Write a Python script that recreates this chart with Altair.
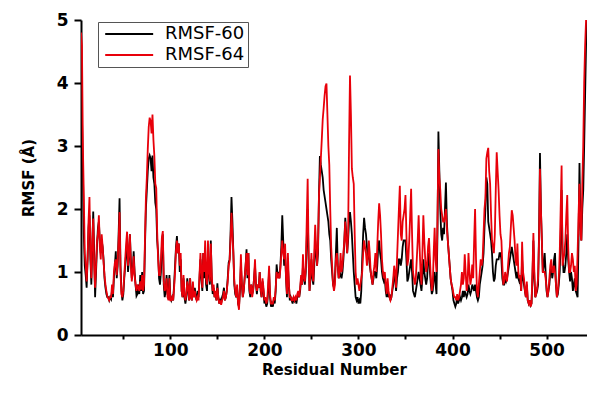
import altair as alt
import pandas as pd

# Residue numbers 5..543
residues = list(range(5, 544))

# RMSF-60 (black)
rmsf_60 = [
    4.8, 3.5, 2.65, 1.6, 1.1, 0.95, 0.75, 1.2, 1.7, 1.9,      # 5-14
    1.2, 0.8, 1.4, 1.96, 1.3, 0.6, 1.0, 1.4, 1.7, 1.8,        # 15-24
    1.5, 1.3, 1.5, 1.4, 1.2, 0.9, 0.75, 0.65, 0.6, 0.6,       # 25-34
    0.55, 0.6, 0.57, 0.7, 0.6, 0.9, 1.1, 1.33, 0.9, 1.1,      # 35-44
    1.6, 2.17, 1.1, 0.7, 0.55, 0.65, 0.9, 1.1, 1.3, 1.5,      # 45-54
    1.0, 1.2, 1.6, 1.2, 0.9, 1.0, 1.33, 1.0, 0.8, 0.62,       # 55-64
    0.65, 0.8, 0.65, 0.95, 0.7, 1.0, 0.65, 0.7, 1.4, 2.0,     # 65-74
    2.3, 2.6, 2.8, 2.85, 2.8, 2.6, 2.85, 2.5, 2.4, 2.1,       # 75-84
    2.0, 1.5, 1.3, 0.9, 0.8, 1.0, 1.4, 1.6, 0.8, 0.6,         # 85-94
    0.7, 0.95, 0.65, 0.6, 0.95, 0.6, 0.55, 0.6, 0.55, 0.8,    # 95-104
    1.1, 1.4, 1.57, 1.3, 1.45, 1.0, 1.2, 0.7, 0.6, 0.9,       # 105-114
    0.6, 0.5, 0.6, 0.9, 0.7, 0.55, 0.9, 0.6, 0.55, 0.8,       # 115-124
    0.6, 0.75, 0.6, 0.55, 0.7, 0.6, 0.9, 1.2, 0.9, 0.7,       # 125-134
    1.3, 0.9, 1.2, 0.8, 0.7, 1.3, 1.0, 0.8, 1.5, 0.9,         # 135-144
    0.65, 0.75, 0.6, 0.65, 0.55, 0.82, 0.6, 0.5, 0.55, 0.5,   # 145-154
    0.6, 0.65, 0.75, 0.55, 0.6, 0.7, 0.9, 1.15, 1.2, 1.6,     # 155-164
    2.19, 1.8, 1.3, 0.8, 0.65, 0.6, 0.75, 0.5, 0.45, 0.7,     # 165-174
    1.1, 0.8, 0.6, 0.7, 0.9, 1.1, 1.36, 0.9, 1.3, 0.7,        # 175-184
    0.6, 0.8, 0.65, 0.7, 0.9, 1.1, 0.8, 0.65, 0.8, 0.75,      # 185-194
    1.0, 0.7, 0.6, 0.85, 0.7, 0.5, 0.55, 0.45, 0.5, 0.7,      # 195-204
    1.0, 0.6, 0.45, 0.5, 0.45, 0.55, 0.5, 0.7, 1.12, 0.95,    # 205-214
    1.0, 0.9, 1.1, 1.4, 1.9, 1.5, 1.1, 1.3, 0.9, 0.6,         # 215-224
    1.1, 0.8, 0.55, 0.6, 0.55, 0.5, 0.6, 0.55, 0.6, 0.5,      # 225-234
    0.6, 0.65, 0.6, 0.7, 0.9, 0.8, 1.1, 0.9, 0.8, 1.0,        # 235-244
    1.5, 2.0, 1.2, 0.7, 0.9, 1.2, 0.9, 0.8, 1.1, 1.5,         # 245-254
    1.3, 1.1, 1.3, 2.2, 2.84, 2.7, 2.6, 2.5, 2.3, 2.2,        # 255-264
    2.1, 2.0, 1.9, 1.8, 1.6, 1.5, 1.2, 1.0, 0.8, 0.75,        # 265-274
    0.9, 1.3, 1.7, 1.1, 0.9, 1.0, 0.95, 0.9, 1.0, 1.2,        # 275-284
    1.5, 1.86, 1.6, 1.3, 1.5, 1.8, 1.95, 1.8, 1.6, 1.3,       # 285-294
    1.0, 0.8, 0.6, 0.55, 0.6, 0.5, 0.55, 0.5, 0.7, 1.2,       # 295-304
    1.6, 1.86, 1.7, 1.6, 1.4, 1.2, 1.3, 1.1, 1.0, 0.9,        # 305-314
    0.8, 0.9, 1.0, 1.0, 0.9, 1.1, 1.4, 1.5, 1.3, 1.2,         # 315-324
    1.0, 0.9, 0.85, 0.9, 0.7, 0.6, 0.8, 0.6, 0.65, 0.55,      # 325-334
    0.6, 0.7, 0.8, 1.0, 0.9, 0.7, 0.9, 1.0, 1.2, 1.2,         # 335-344
    1.1, 1.2, 1.4, 1.5, 1.5, 1.5, 1.2, 0.85, 0.9, 1.0,        # 345-354
    1.1, 1.2, 1.0, 0.7, 0.65, 0.6, 0.7, 0.8, 0.9, 1.0,        # 355-364
    0.9, 0.8, 0.7, 0.9, 1.2, 1.0, 0.9, 0.8, 0.9, 1.2,         # 365-374
    1.3, 1.0, 0.8, 0.65, 0.7, 0.9, 1.0, 0.8, 0.65, 1.6,       # 375-384
    3.23, 2.6, 2.0, 1.6, 1.5, 1.7, 1.6, 2.0, 2.42, 1.8,       # 385-394
    1.5, 1.3, 1.1, 0.9, 0.8, 0.7, 0.55, 0.5, 0.45, 0.5,       # 395-404
    0.6, 0.5, 0.55, 0.6, 0.55, 0.6, 0.7, 0.6, 0.7, 0.65,      # 405-414
    0.6, 0.65, 0.8, 0.7, 0.65, 0.7, 0.8, 0.75, 0.7, 0.8,      # 415-424
    0.7, 0.6, 0.55, 0.6, 0.8, 0.9, 1.0, 1.1, 1.3, 1.7,        # 425-434
    2.0, 2.5, 2.4, 1.8, 1.7, 1.6, 1.5, 1.3, 1.0, 0.85,        # 435-444
    0.9, 1.1, 1.2, 1.2, 1.2, 1.3, 1.3, 1.2, 0.9, 0.8,         # 445-454
    0.8, 0.9, 0.85, 0.9, 1.0, 1.1, 1.2, 1.3, 1.4, 1.3,        # 455-464
    1.2, 1.1, 1.0, 0.9, 1.0, 0.9, 0.85, 0.9, 0.7, 1.2,        # 465-474
    0.9, 0.8, 0.7, 0.6, 0.8, 0.55, 0.5, 0.55, 0.47, 0.5,      # 475-484
    0.9, 1.5, 0.9, 0.6, 0.65, 0.7, 0.8, 1.6, 2.89, 2.0,       # 485-494
    1.5, 1.0, 1.1, 1.3, 1.0, 0.7, 0.6, 0.7, 0.8, 1.0,         # 495-504
    1.1, 0.9, 1.0, 1.2, 1.3, 0.8, 0.6, 0.65, 0.8, 1.0,        # 505-514
    1.5, 2.3, 1.3, 1.0, 1.0, 1.1, 1.3, 1.6, 1.2, 1.0,         # 515-524
    0.85, 1.0, 0.9, 0.7, 0.8, 0.9, 0.7, 0.65, 0.6, 1.5,       # 525-534
    2.73, 1.8, 1.5, 2.0, 2.3, 3.0, 3.8, 4.6, 5.0,             # 535-543
]

# RMSF-64 (red)
rmsf_64 = [
    4.8, 4.6, 3.0, 2.2, 1.3, 1.1, 0.85, 1.2, 1.8, 2.19,       # 5-14
    1.3, 0.9, 1.5, 1.85, 1.1, 0.75, 1.1, 1.5, 1.6, 1.9,       # 15-24
    1.4, 1.2, 1.6, 1.4, 1.15, 0.95, 0.8, 0.7, 0.62, 0.58,     # 25-34
    0.55, 0.6, 0.6, 0.8, 0.65, 1.0, 1.15, 1.2, 0.95, 1.2,     # 35-44
    1.5, 1.95, 1.0, 0.65, 0.6, 0.7, 0.95, 1.2, 1.45, 1.64,    # 45-54
    1.1, 1.3, 1.6, 1.1, 0.85, 1.0, 1.25, 0.95, 0.8, 0.7,      # 55-64
    0.8, 0.75, 0.7, 0.85, 0.72, 0.95, 0.7, 0.8, 1.5, 2.17,    # 65-74
    2.5, 2.95, 3.3, 3.45, 3.4, 3.2, 3.5, 3.1, 2.84, 2.4,      # 75-84
    2.33, 1.64, 1.2, 0.95, 0.95, 1.2, 1.55, 1.65, 0.85, 0.7,  # 85-94
    0.75, 0.9, 0.6, 0.55, 0.9, 0.55, 0.55, 0.6, 0.55, 0.75,   # 95-104
    1.0, 1.35, 1.5, 1.3, 1.45, 1.1, 1.3, 0.7, 0.6, 0.95,      # 105-114
    0.65, 0.55, 0.65, 0.85, 0.75, 0.55, 0.9, 0.6, 0.55, 0.85, # 115-124
    0.6, 0.7, 0.6, 0.55, 0.6, 0.55, 0.95, 1.3, 1.0, 0.75,     # 125-134
    1.3, 1.0, 1.5, 0.9, 0.8, 1.5, 1.0, 0.85, 1.45, 0.95,      # 135-144
    0.7, 0.8, 0.6, 0.7, 0.55, 0.75, 0.6, 0.5, 0.55, 0.48,     # 145-154
    0.55, 0.6, 0.7, 0.55, 0.6, 0.7, 0.85, 1.1, 1.17, 1.5,     # 155-164
    1.94, 1.6, 1.3, 0.85, 0.7, 0.6, 0.8, 0.5, 0.4, 0.75,      # 165-174
    1.28, 0.85, 0.6, 0.7, 0.9, 1.1, 1.3, 0.95, 1.3, 0.75,     # 175-184
    0.65, 0.8, 0.6, 0.7, 0.9, 1.2, 0.8, 0.7, 0.8, 0.75,       # 185-194
    1.0, 0.75, 0.6, 0.9, 0.75, 0.55, 0.6, 0.5, 0.55, 0.8,     # 195-204
    1.1, 0.65, 0.5, 0.5, 0.5, 0.6, 0.55, 0.75, 1.0, 0.9,      # 205-214
    0.95, 0.9, 1.05, 1.3, 1.5, 1.3, 1.2, 1.45, 0.9, 0.65,     # 215-224
    1.3, 0.8, 0.6, 0.6, 0.55, 0.55, 0.6, 0.55, 0.6, 0.55,     # 225-234
    0.65, 0.7, 0.6, 0.75, 0.95, 0.8, 1.28, 0.9, 0.85, 1.1,    # 235-244
    1.8, 2.48, 1.3, 0.7, 1.0, 1.3, 0.95, 0.85, 1.3, 1.75,     # 245-254
    1.4, 1.1, 1.4, 2.2, 2.5, 2.8, 3.1, 3.42, 3.6, 3.8,        # 255-264
    3.95, 3.99, 3.5, 3.0, 2.7, 2.0, 1.4, 1.1, 0.8, 0.7,       # 265-274
    0.8, 1.2, 1.3, 1.1, 0.9, 1.0, 1.3, 1.0, 1.1, 1.3,         # 275-284
    1.5, 1.8, 1.5, 1.3, 1.6, 3.0, 4.12, 3.5, 2.64, 2.5,       # 285-294
    2.4, 1.6, 1.0, 0.8, 0.9, 0.8, 0.7, 0.8, 0.9, 1.0,         # 295-304
    1.3, 1.5, 1.4, 1.3, 1.1, 1.2, 1.5, 1.3, 1.0, 0.9,         # 305-314
    0.8, 1.0, 1.1, 1.3, 1.0, 1.4, 1.8, 2.09, 1.9, 1.6,        # 315-324
    1.2, 1.0, 0.9, 1.0, 0.8, 0.65, 0.9, 0.7, 0.6, 0.55,       # 325-334
    0.6, 0.75, 0.9, 1.1, 1.0, 0.75, 1.2, 1.6, 2.0, 2.37,      # 335-344
    1.6, 1.5, 1.8, 1.9, 2.0, 2.22, 1.6, 1.1, 1.2, 1.5,        # 345-354
    1.9, 2.32, 1.6, 1.0, 0.9, 0.8, 0.9, 1.2, 1.5, 1.9,        # 355-364
    1.4, 1.0, 0.8, 1.3, 1.9, 1.5, 1.2, 1.0, 1.1, 1.4,         # 365-374
    1.54, 1.2, 0.9, 0.7, 0.8, 1.3, 1.7, 1.2, 1.0, 1.8,        # 375-384
    2.95, 2.5, 2.3, 2.0, 1.9, 1.8, 1.8, 1.9, 2.0, 1.7,        # 385-394
    1.5, 1.3, 1.1, 0.9, 0.8, 0.75, 0.65, 0.6, 0.6, 0.55,      # 395-404
    0.65, 0.55, 0.6, 0.7, 0.8, 1.0, 0.8, 0.9, 1.28, 1.0,      # 405-414
    0.7, 0.8, 1.3, 1.0, 0.8, 0.9, 1.12, 0.9, 1.5, 2.0,        # 415-424
    1.2, 0.7, 0.6, 0.8, 1.0, 1.2, 1.1, 1.2, 1.6, 2.0,         # 425-434
    2.17, 2.8, 2.9, 2.97, 2.6, 2.4, 1.9, 1.5, 1.4, 1.3,       # 435-444
    1.6, 2.3, 2.9, 2.6, 2.3, 1.9, 1.6, 1.5, 1.1, 0.8,         # 445-454
    0.85, 1.0, 0.9, 0.85, 1.1, 1.3, 1.4, 1.7, 1.98, 1.9,      # 455-464
    1.7, 1.5, 1.2, 1.1, 1.45, 1.0, 0.9, 0.95, 0.7, 1.48,      # 465-474
    1.0, 0.9, 0.7, 0.6, 0.85, 0.55, 0.5, 0.55, 0.45, 0.5,     # 475-484
    1.0, 1.62, 1.0, 0.6, 0.65, 0.75, 0.9, 1.5, 2.64, 2.0,     # 485-494
    1.5, 1.0, 1.0, 1.0, 0.9, 0.75, 0.6, 0.7, 0.9, 1.1,        # 495-504
    1.2, 1.0, 1.0, 1.1, 1.0, 0.8, 0.6, 0.7, 0.9, 1.3,         # 505-514
    2.0, 2.69, 1.1, 1.2, 1.3, 1.5, 1.9, 2.22, 1.4, 1.0,       # 515-524
    1.0, 1.1, 1.3, 1.2, 1.0, 1.1, 0.7, 0.8, 1.3, 1.9,         # 525-534
    2.4, 1.6, 1.5, 2.4, 3.0, 4.0, 4.6, 5.0, 5.0,              # 535-543
]

series_names = ["RMSF-60", "RMSF-64"]
series_colors = ["#000000", "#e8000a"]
x_ticks = [50, 100, 150, 200, 250, 300, 350, 400, 450, 500]
y_ticks = [0, 0.5, 1, 1.5, 2, 2.5, 3, 3.5, 4, 4.5, 5]

n = len(residues)
assert len(rmsf_60) == n and len(rmsf_64) == n

df = pd.DataFrame({
    "Residue": residues + residues,
    "RMSF": rmsf_60 + rmsf_64,
    "Series": [series_names[0]] * n + [series_names[1]] * n,
    "k": [0] * n + [1] * n,
})

FONT = "DejaVu Sans"

chart = alt.Chart(df).mark_line(strokeWidth=1.8, clip=True).encode(
    x=alt.X(
        "Residue:Q",
        scale=alt.Scale(domain=[5, 543], nice=False, zero=False),
        axis=alt.Axis(
            values=x_ticks,
            format="d",
            labelExpr="datum.value % 100 === 0 ? datum.label : ''",
            title="Residual Number",
            titleFontSize=15,
            titlePadding=4,
            labelFontSize=17,
            labelPadding=3,
            tickSize=4,
            labelFlush=False,
        ),
    ),
    y=alt.Y(
        "RMSF:Q",
        scale=alt.Scale(domain=[0, 5], nice=False),
        axis=alt.Axis(
            values=y_ticks,
            format="d",
            labelExpr="datum.value % 1 === 0 ? datum.label : ''",
            title="RMSF (Å)",
            titleFontSize=15,
            titlePadding=20,
            labelFontSize=17,
            labelPadding=6,
            tickSize={"condition": {"test": "datum.value % 1 === 0", "value": 7}, "value": 4},
            labelFlush=False,
        ),
    ),
    color=alt.Color(
        "Series:N",
        scale=alt.Scale(domain=series_names, range=series_colors),
        legend=alt.Legend(
            title=None,
            orient="none",
            legendX=17,
            legendY=2,
            symbolType="M-1,0H9",
            symbolSize=92,
            symbolStrokeWidth=2,
            labelFontSize=18,
            labelFont=FONT,
            labelOffset=46,
            rowPadding=3,
            padding=3,
            strokeColor="#555555",
            fillColor="white",
        ),
    ),
    order=alt.Order("k:Q"),
).properties(
    width=506,
    height=315,
    autosize=alt.AutoSizeParams(type="none"),
    padding={"left": 73, "top": 12, "right": 0, "bottom": 48},
).configure_view(
    stroke=None
).configure_axis(
    grid=False,
    domainColor="black",
    domainWidth=2,
    tickColor="black",
    tickWidth=2,
    labelFont=FONT,
    labelFontWeight="bold",
    labelColor="black",
    titleFont=FONT,
    titleFontWeight="bold",
    titleColor="black",
)

chart.save("out.html", embed_options={"renderer": "svg", "actions": False})
